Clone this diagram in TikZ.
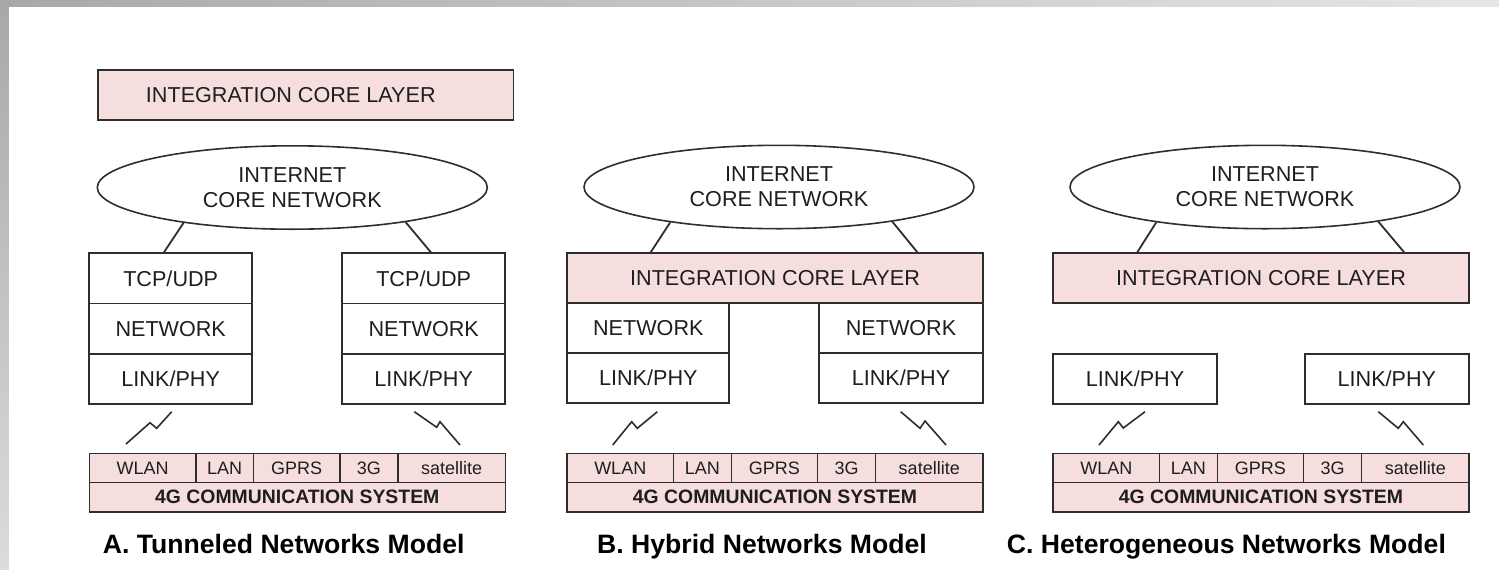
\documentclass[tikz,border=0pt]{standalone}
\usepackage{fontspec}
\setsansfont{Liberation Sans}
\usepackage{xcolor}
\usepackage{tikz}
\usetikzlibrary{shapes.geometric,positioning}
\definecolor{linegray}{HTML}{2E2E2E}
\definecolor{textgray}{HTML}{1E1E1E}
\definecolor{pinkfill}{HTML}{F7DEDE}
\definecolor{stripdark}{HTML}{A8A8A8}
\definecolor{striplight}{HTML}{E6E6E6}

\begin{document}
\begin{tikzpicture}[x=0.5pt, y=-0.5pt,
  lbl/.style={font=\sffamily\fontsize{10.8}{12.5}\selectfont, text=textgray},
  layer/.style={lbl, draw=linegray, line width=0.9pt, fill=pinkfill, inner sep=0pt, outer sep=0pt,
                minimum width=207.7pt, minimum height=24.7pt},
  stackbox/.style={lbl, draw=linegray, line width=0.9pt, fill=white, inner sep=0pt, outer sep=0pt,
                   minimum width=81.5pt, minimum height=25.1pt},
  cloud/.style={lbl, ellipse, draw=linegray, line width=0.8pt, inner sep=0pt, align=center,
                minimum width=195pt, minimum height=41.7pt},
  cell/.style={draw=linegray, line width=0.8pt, fill=pinkfill, inner sep=0pt, outer sep=0pt,
               minimum height=14.5pt, font=\sffamily\fontsize{9}{10}\selectfont, text=textgray},
  sysbar/.style={draw=linegray, line width=0.8pt, fill=pinkfill, inner sep=0pt, outer sep=0pt,
                 minimum width=208pt, minimum height=14.7pt,
                 font=\sffamily\bfseries\fontsize{9.7}{11}\selectfont, text=textgray},
  link/.style={draw=linegray, line width=0.9pt},
  bolt/.style={draw=linegray, line width=0.8pt},
  caption/.style={font=\sffamily\bfseries\fontsize{13.3}{15}\selectfont, anchor=base}
]
\useasboundingbox (0,0) rectangle (1499,569);
% slide background
\fill[white] (0,0) rectangle (1499,569);
\shade[top color=stripdark, bottom color=striplight!90!gray] (0,0) rectangle (8.5,569);
\shade[left color=stripdark, right color=striplight] (0,0) rectangle (1499,6);

% A: tunneled networks
\node[layer] (atop) at (305.8,95) {};
\node[lbl] (atoptext) at ([xshift=-7.5pt]atop.center) {INTEGRATION CORE LAYER};
\node[cloud] (aell) at (292.3,187.5) {INTERNET\\CORE NETWORK};
\node[stackbox] (aLtcp) at (170.7,278.4) {TCP/UDP};
\node[stackbox, below=0pt of aLtcp] (aLnet) {NETWORK};
\node[stackbox, below=0pt of aLnet] (aLlink) {LINK/PHY};
\node[stackbox] (aRtcp) at (423.7,278.4) {TCP/UDP};
\node[stackbox, below=0pt of aRtcp] (aRnet) {NETWORK};
\node[stackbox, below=0pt of aRnet] (aRlink) {LINK/PHY};
\draw[link] (aell.198) -- ([xshift=-3.7pt]aLtcp.north);
\draw[link] (aell.343) -- ([xshift=4pt]aRtcp.north);
\draw[bolt] (126,444) -- (150,422.7) -- (156.7,428.3) -- (171.7,411.7);
\draw[bolt] (414.3,411.7) -- (436.7,427.3) -- (440,421.7) -- (460,445);
\node[sysbar] (asys) at (297.3,497) {4G COMMUNICATION SYSTEM};
\node[cell, minimum width=53.25pt, anchor=south west] (awlan) at (asys.north west) {WLAN};
\node[cell, minimum width=28.9pt, right=0pt of awlan] (alan) {LAN};
\node[cell, minimum width=43.1pt, right=0pt of alan] (agprs) {GPRS};
\node[cell, minimum width=29pt, right=0pt of agprs] (athreeg) {3G};
\node[cell, minimum width=53.75pt, right=0pt of athreeg] (asat) {satellite};
\node[caption] (acap) at (283.7,553) {A. Tunneled Networks Model};

% B: hybrid networks
\node[cloud] (bell) at (779,187) {INTERNET\\CORE NETWORK};
\node[layer] (bint) at (775,278) {INTEGRATION CORE LAYER};
\node[stackbox, minimum width=81pt, anchor=north west] (bLnet) at (bint.south west) {NETWORK};
\node[stackbox, minimum width=81pt, below=0pt of bLnet] (bLlink) {LINK/PHY};
\node[stackbox, minimum width=81.7pt, anchor=north east] (bRnet) at (bint.south east) {NETWORK};
\node[stackbox, minimum width=81.7pt, below=0pt of bRnet] (bRlink) {LINK/PHY};
\draw[link] (bell.198) -- ([xshift=-62.5pt]bint.north);
\draw[link] (bell.343) -- ([xshift=71.6pt]bint.north);
\draw[bolt] (612.7,445) -- (631.7,421.7) -- (637.3,428.3) -- (657.3,411.7);
\draw[bolt] (900.7,411.7) -- (920,428.3) -- (925,421) -- (946,445);
\node[sysbar] (bsys) at (775,497) {4G COMMUNICATION SYSTEM};
\node[cell, minimum width=53.25pt, anchor=south west] (bwlan) at (bsys.north west) {WLAN};
\node[cell, minimum width=28.9pt, right=0pt of bwlan] (blan) {LAN};
\node[cell, minimum width=43.1pt, right=0pt of blan] (bgprs) {GPRS};
\node[cell, minimum width=29pt, right=0pt of bgprs] (bthreeg) {3G};
\node[cell, minimum width=53.75pt, right=0pt of bthreeg] (bsat) {satellite};
\node[caption] (bcap) at (762,553) {B. Hybrid Networks Model};

% C: heterogeneous networks
\node[cloud] (cell) at (1265,187) {INTERNET\\CORE NETWORK};
\node[layer] (cint) at (1261,278) {INTEGRATION CORE LAYER};
\node[stackbox, minimum width=81.7pt] (cLlink) at (1135,378.7) {LINK/PHY};
\node[stackbox, minimum width=81.9pt] (cRlink) at (1386.9,378.7) {LINK/PHY};
\draw[link] (cell.198) -- ([xshift=-62.2pt]cint.north);
\draw[link] (cell.343) -- ([xshift=72pt]cint.north);
\draw[bolt] (1099,445) -- (1118.3,421.7) -- (1123.3,428) -- (1145,411.7);
\draw[bolt] (1378.3,411.7) -- (1398.3,428.3) -- (1403.3,421.7) -- (1423.3,445);
\node[sysbar] (csys) at (1261,497) {4G COMMUNICATION SYSTEM};
\node[cell, minimum width=53.25pt, anchor=south west] (cwlan) at (csys.north west) {WLAN};
\node[cell, minimum width=28.9pt, right=0pt of cwlan] (clan) {LAN};
\node[cell, minimum width=43.1pt, right=0pt of clan] (cgprs) {GPRS};
\node[cell, minimum width=29pt, right=0pt of cgprs] (cthreeg) {3G};
\node[cell, minimum width=53.75pt, right=0pt of cthreeg] (csat) {satellite};
\node[caption, anchor=base east] (ccap) at (1453,553) {C. Heterogeneous Networks Model};
\end{tikzpicture}
\end{document}
